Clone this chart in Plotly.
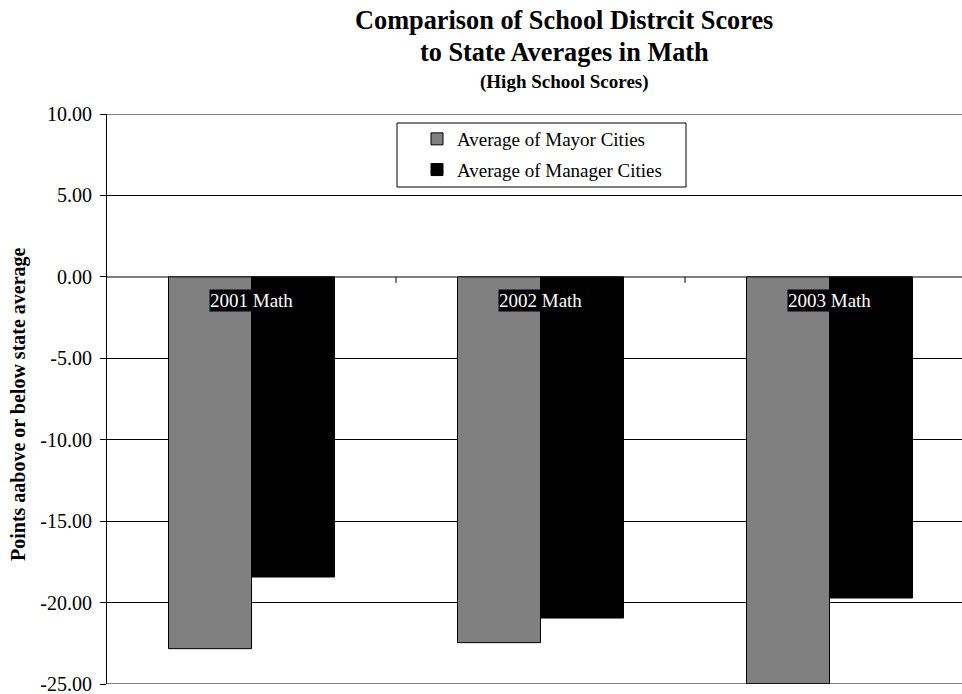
import plotly.graph_objects as go

# Points above or below the state average, high school math
categories = ["2001 Math", "2002 Math", "2003 Math"]
mayor_cities = [-22.83, -22.46, -24.98]
manager_cities = [-18.43, -20.95, -19.72]
y_ticks = [10, 5, 0, -5, -10, -15, -20, -25]

W, H = 962, 694
L, R, T, B = 107, 0, 114, 10
CAT_PX = 289  # width of one category band in px
plot_w = W - L - R
plot_h = H - T - B
x_max = -0.5 + plot_w / CAT_PX


def px_x(px):
    return (px - L) / plot_w


def px_y(px):
    return 1 - (px - T) / plot_h


serif = "Liberation Serif, Times New Roman, serif"

fig = go.Figure()
fig.add_trace(go.Bar(
    x=categories, y=mayor_cities, name="Average of Mayor Cities",
    marker=dict(color="#808080", line=dict(color="#000000", width=1)),
    legendgroup="a",
))
fig.add_trace(go.Bar(
    x=categories, y=manager_cities, name="Average of Manager Cities",
    marker=dict(color="#000000", line=dict(color="#000000", width=1)),
    legendgroup="b",
))

# category labels sitting just under the zero line
annotations = []
for c in categories:
    annotations.append(dict(
        x=c, y=0, xref="x", yref="y", text=c, showarrow=False,
        yanchor="top", yshift=-12, bgcolor="#000000", borderpad=0,
        font=dict(family=serif, size=19, color="#ffffff"),
    ))

# three-line heading
title_x = px_x(564)
for text, ypx, sz in [
    ("<b>Comparison of School Distrcit Scores</b>", 21, 26.3),
    ("<b>to State Averages in Math</b>", 52, 26.3),
    ("<b>(High School Scores)</b>", 82, 19),
]:
    annotations.append(dict(
        x=title_x, y=px_y(ypx), xref="paper", yref="paper", text=text,
        showarrow=False, xanchor="center", yanchor="middle",
        font=dict(family=serif, size=sz, color="#000000"),
    ))

annotations.append(dict(
    x=px_x(18), y=px_y(404), xref="paper", yref="paper",
    text="<b>Points aabove or below state average</b>", textangle=-90,
    showarrow=False, xanchor="center", yanchor="middle",
    font=dict(family=serif, size=20, color="#000000"),
))

shapes = []
# small boundary ticks between categories on the zero line
for k in range(len(categories) - 1):
    shapes.append(dict(
        type="line", xref="x", yref="y", x0=k + 0.5, x1=k + 0.5,
        ysizemode="pixel", yanchor=0, y0=0, y1=-6,
        line=dict(color="#000000", width=1),
    ))
# top and bottom edges of the plot area
for yv in (max(y_ticks), min(y_ticks)):
    shapes.append(dict(
        type="line", xref="paper", yref="y", x0=0, x1=1, y0=yv, y1=yv,
        line=dict(color="#808080", width=2), layer="below",
    ))
# legend frame
shapes.append(dict(
    type="rect", xref="paper", yref="paper",
    x0=px_x(397), x1=px_x(686), y0=px_y(187), y1=px_y(123),
    line=dict(color="#000000", width=1), fillcolor="#ffffff", layer="above",
))

fig.update_layout(
    width=W, height=H,
    margin=dict(l=L, r=R, t=T, b=B),
    paper_bgcolor="#ffffff", plot_bgcolor="#ffffff",
    barmode="group", bargap=0.4256, bargroupgap=0,
    font=dict(family=serif, size=19, color="#000000"),
    showlegend=True,
    legend=dict(
        x=px_x(417), y=px_y(120),
        xanchor="left", yanchor="top",
        borderwidth=0, bgcolor="rgba(0,0,0,0)",
        font=dict(family=serif, size=19, color="#000000"),
        tracegroupgap=3, traceorder="grouped", itemwidth=30,
    ),
    xaxis=dict(
        range=[-0.5, x_max], showticklabels=False, ticks="",
        showgrid=False, zeroline=False, showline=False,
    ),
    yaxis=dict(
        range=[min(y_ticks), max(y_ticks)],
        tickvals=y_ticks, ticktext=[f"{v:.2f}" for v in y_ticks],
        ticks="outside", ticklen=6, tickcolor="#000000",
        ticklabelstandoff=4, ticklabeloverflow="allow",
        showline=True, linecolor="#000000", linewidth=1,
        showgrid=True, gridcolor="#000000", gridwidth=1,
        zeroline=True, zerolinecolor="#808080", zerolinewidth=2,
        tickfont=dict(family=serif, size=20, color="#000000"),
    ),
    annotations=annotations,
    shapes=shapes,
)

fig.write_html("out.html")
